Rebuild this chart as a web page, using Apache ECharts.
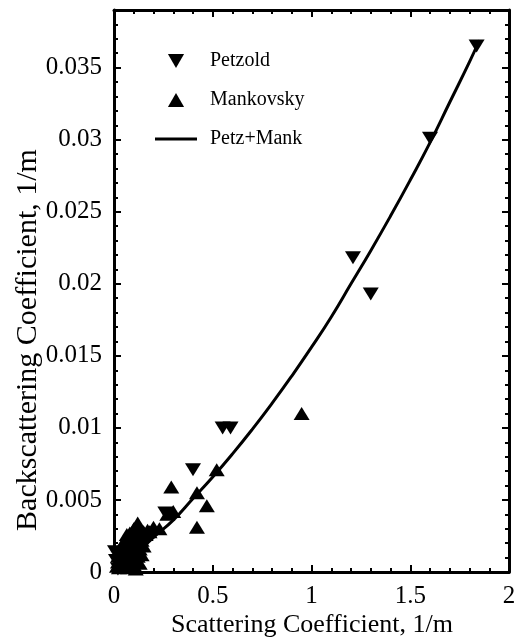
<!DOCTYPE html>
<html>
<head>
<meta charset="utf-8">
<script src="https://cdn.jsdelivr.net/npm/echarts@6/dist/echarts.min.js"></script>
<style>html,body{margin:0;padding:0;background:#fff;}#c{width:519px;height:643px;}</style>
</head>
<body>
<div id="c"></div>
<script>
// Petzold (down triangles)
const petzoldX = [1.836, 1.60, 1.21, 1.30, 0.55, 0.59, 0.40, 0.26, 0.005, 0.02, 0.03, 0.05, 0.07, 0.09, 0.12, 0.15, 0.01, 0.04, 0.06, 0.08];
const petzoldY = [0.0365, 0.0301, 0.0218, 0.0193, 0.0100, 0.0100, 0.0071, 0.0041, 0.0014, 0.0002, 0.0006, 0.0009, 0.0012, 0.0016, 0.0019, 0.0025, 0.0008, 0.0003, 0.0004, 0.0007];
// Mankovsky (up triangles)
const mankX = [0.95, 0.52, 0.29, 0.42, 0.47, 0.42, 0.30, 0.27, 0.20, 0.23, 0.17, 0.15, 0.12, 0.10, 0.08, 0.07, 0.06, 0.05, 0.04, 0.03, 0.02, 0.10, 0.12, 0.09, 0.11, 0.08, 0.06, 0.04, 0.13, 0.14, 0.025, 0.07, 0.10, 0.05, 0.035, 0.09, 0.015, 0.03, 0.055, 0.075, 0.095, 0.115, 0.135, 0.065, 0.085, 0.105, 0.045, 0.02, 0.125, 0.16, 0.18, 0.13, 0.12, 0.15, 0.14, 0.11];
const mankY = [0.0110, 0.0071, 0.0059, 0.0055, 0.0046, 0.0031, 0.0042, 0.0040, 0.0031, 0.0030, 0.0029, 0.0028, 0.0034, 0.0030, 0.0027, 0.0022, 0.0018, 0.0015, 0.0012, 0.0009, 0.0007, 0.0020, 0.0024, 0.0012, 0.0008, 0.0005, 0.0008, 0.0004, 0.0016, 0.0022, 0.0003, 0.0003, 0.0015, 0.0010, 0.0017, 0.0024, 0.0004, 0.0013, 0.0021, 0.0018, 0.0009, 0.0013, 0.0025, 0.0026, 0.0021, 0.0004, 0.0020, 0.0011, 0.0029, 0.0026, 0.0028, 0.0006, 0.0011, 0.0018, 0.0012, 0.0002];
// Petz+Mank fit curve
const fitX = [0.01, 0.1, 0.2, 0.3, 0.4, 0.5, 0.6, 0.7, 0.8, 0.9, 1.0, 1.1, 1.2, 1.3, 1.4, 1.5, 1.6, 1.7, 1.8, 1.85];
const fitY = [0.0001, 0.0011, 0.0024, 0.0036, 0.0051, 0.0066, 0.0082, 0.0099, 0.0117, 0.0136, 0.0156, 0.0177, 0.0200, 0.0223, 0.0247, 0.0272, 0.0298, 0.0326, 0.0354, 0.0369];
const xTicks = [0, 0.5, 1, 1.5, 2];
const yTicks = [0, 0.005, 0.01, 0.015, 0.02, 0.025, 0.03, 0.035];

const zip = (a, b) => a.map((v, i) => [v, b[i]]);
const FONT = 'Liberation Serif';
const DOWN = 'path://M0,0L10,0L5,8.66Z';
const UP = 'path://M5,0L10,8.66L0,8.66Z';
const LINE_ICON = 'path://M0,0L42,0L42,3L0,3Z';

const chart = echarts.init(document.getElementById('c'), null, {renderer: 'canvas'});

const GRID = {left: 114, right: 10, top: 10, bottom: 71, containLabel: false};

function mkX(pos, major, labels, grid) {
  return {
    type: 'value', position: pos, min: 0, max: 2, gridIndex: grid,
    interval: major ? 0.5 : 0.1,
    axisLine: {show: major, onZero: false, lineStyle: {color: '#000', width: 3}},
    axisTick: {show: true, inside: true, length: major ? 7 : 4, lineStyle: {color: '#000', width: 2}},
    axisLabel: {show: labels, color: '#000', fontFamily: FONT, fontSize: 25, margin: 12,
      formatter: v => (xTicks.indexOf(+v.toFixed(3)) >= 0 ? String(+v.toFixed(3)) : '')},
    splitLine: {show: false}
  };
}
function mkY(pos, major, labels, grid) {
  return {
    type: 'value', position: pos, min: 0, max: 0.039, gridIndex: grid,
    interval: major ? 0.005 : 0.001,
    axisLine: {show: major, onZero: false, lineStyle: {color: '#000', width: 3}},
    axisTick: {show: true, inside: true, length: major ? 7 : 4, lineStyle: {color: '#000', width: 2}},
    axisLabel: {show: labels, color: '#000', fontFamily: FONT, fontSize: 25, margin: 12, showMaxLabel: false,
      formatter: v => (yTicks.indexOf(+v.toFixed(4)) >= 0 ? String(+v.toFixed(4)) : '')},
    splitLine: {show: false}
  };
}

chart.setOption({
  animation: false,
  backgroundColor: '#fff',
  grid: [Object.assign({}, GRID), Object.assign({}, GRID)],
  xAxis: [mkX('bottom', true, true, 0), mkX('top', true, false, 0), mkX('bottom', false, false, 1), mkX('top', false, false, 1)],
  yAxis: [mkY('left', true, true, 0), mkY('right', true, false, 0), mkY('left', false, false, 1), mkY('right', false, false, 1)],
  legend: {
    orient: 'vertical', left: 155, top: 51, itemGap: 19, padding: 0,
    itemWidth: 42, itemHeight: 14,
    textStyle: {fontFamily: FONT, fontSize: 20, color: '#000', padding: [0, 0, 0, 8]},
    data: [
      {name: 'Petzold', icon: DOWN},
      {name: 'Mankovsky', icon: UP},
      {name: 'Petz+Mank', icon: LINE_ICON, itemStyle: {color: '#000'}}
    ]
  },
  graphic: [
    {type: 'text', x: 312, y: 612, style: {text: 'Scattering Coefficient, 1/m', font: '26px "Liberation Serif"', fill: '#000', align: 'center', verticalAlign: 'top'}},
    {type: 'text', rotation: Math.PI / 2, x: 13, y: 340,
     style: {text: 'Backscattering Coefficient, 1/m', font: '30px "Liberation Serif"', fill: '#000', align: 'center', verticalAlign: 'top'}}
  ],
  series: [
    {name: 'Petzold', type: 'scatter', xAxisIndex: 0, yAxisIndex: 0, symbol: DOWN, symbolSize: [16, 13], itemStyle: {color: '#000', opacity: 1}, data: zip(petzoldX, petzoldY), z: 3},
    {name: 'Mankovsky', type: 'scatter', xAxisIndex: 0, yAxisIndex: 0, symbol: UP, symbolSize: [16, 13], itemStyle: {color: '#000', opacity: 1}, data: zip(mankX, mankY), z: 3},
    {name: 'Petz+Mank', type: 'line', xAxisIndex: 0, yAxisIndex: 0, smooth: true, symbol: 'none', showSymbol: false, lineStyle: {color: '#000', width: 3}, itemStyle: {color: '#000'}, data: zip(fitX, fitY), z: 2}
  ]
});
</script>
</body>
</html>
